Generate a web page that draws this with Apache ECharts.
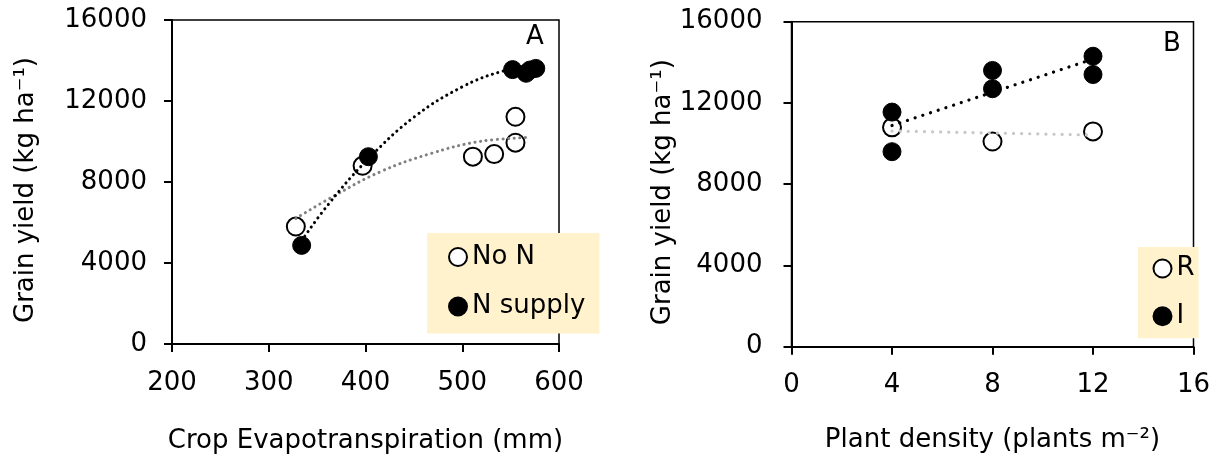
<!DOCTYPE html>
<html>
<head>
<meta charset="utf-8">
<script src="https://cdn.jsdelivr.net/npm/echarts@6/dist/echarts.min.js"></script>
<style>
  html, body { margin: 0; padding: 0; background: #fff; }
  #chart { width: 1225px; height: 471px; }
</style>
</head>
<body>
<div id="chart"></div>
<script>
// panel A: grain yield vs crop evapotranspiration (mm, kg/ha)
const ET_NO_N = [[328, 5800], [397, 8800], [511, 9250], [533, 9380], [555, 9940], [555, 11220]];
const ET_N_SUPPLY = [[334, 4870], [403, 9250], [552, 13550], [566, 13370], [570, 13530], [576, 13610]];
// trend curves
const ET_NO_N_TREND = [[328, 6200], [367, 7300], [415, 8500], [467, 9400], [518, 10000], [570, 10200]];
const ET_N_SUPPLY_TREND = [[334, 5100], [360, 6800], [400, 9000], [450, 11200], [500, 12700], [540, 13450], [576, 13750]];

// panel B: grain yield vs plant density (plants m-2, kg/ha)
const DENSITY_R = [[4, 10800], [8, 10100], [12, 10600]];
const DENSITY_I = [[4, 11550], [4, 9600], [8, 13600], [8, 12700], [12, 14300], [12, 13400]];
const DENSITY_R_TREND = [[4, 10620], [12, 10420]];
const DENSITY_I_TREND = [[4, 10890], [12, 14160]];

const FONT = "DejaVu Sans";
const FS = 26;

const chart = echarts.init(document.getElementById("chart"));

function xAxis(gridIndex, min, max, interval, name, nameGap) {
  return {
    gridIndex, type: "value", min, max, interval,
    name, nameLocation: "middle", nameGap,
    nameTextStyle: { fontFamily: FONT, fontSize: FS, color: "#000" },
    axisLine: { lineStyle: { color: "#000", width: 2 } },
    axisTick: { length: 8, lineStyle: { color: "#000", width: 2 } },
    axisLabel: { margin: 26, fontFamily: FONT, fontSize: FS, color: "#000", formatter: (v) => String(v) },
    splitLine: { show: false },
  };
}

function yAxis(gridIndex, name, nameGap, labelMargin) {
  return {
    gridIndex, type: "value", min: 0, max: 16000, interval: 4000,
    name, nameLocation: "middle", nameGap,
    nameTextStyle: { fontFamily: FONT, fontSize: FS, color: "#000", padding: [0, 16, 0, 0] },
    axisLine: { lineStyle: { color: "#000", width: 2 } },
    axisTick: { length: 8, lineStyle: { color: "#000", width: 2 } },
    axisLabel: { margin: labelMargin, fontFamily: FONT, fontSize: FS, color: "#000", formatter: (v) => String(v) },
    splitLine: { show: false },
  };
}

const openDot = { color: "#fff", borderColor: "#000", borderWidth: 2, opacity: 1 };
const fullDot = { color: "#000", borderColor: "#000", borderWidth: 1, opacity: 1 };

function dots(name, idx, data, style) {
  return {
    name, type: "scatter", xAxisIndex: idx, yAxisIndex: idx,
    data, symbol: "circle", symbolSize: 18, itemStyle: style, z: 2,
  };
}

function trend(idx, data, color, width, gap, smooth) {
  return {
    type: "line", xAxisIndex: idx, yAxisIndex: idx, data, smooth,
    showSymbol: false, silent: true, z: 3,
    lineStyle: { color, width, type: [0.1, gap], cap: "round" },
  };
}

function legend(names, left, top, padding, itemGap) {
  return {
    data: names, orient: "vertical", left, top, padding, itemGap,
    backgroundColor: "#fff2cc", icon: "circle", itemWidth: 18, itemHeight: 18,
    selectedMode: false,
    textStyle: { fontFamily: FONT, fontSize: FS, color: "#000" },
  };
}

chart.setOption({
  animation: false,
  backgroundColor: "#fff",
  grid: [
    { left: 172, top: 20, width: 387, height: 324, show: true, borderColor: "#000", borderWidth: 1.5 },
    { left: 791.5, top: 21.7, width: 402, height: 325, show: true, borderColor: "#000", borderWidth: 1.5 },
  ],
  xAxis: [
    xAxis(0, 200, 600, 100, "Crop Evapotranspiration (mm)", 84),
    xAxis(1, 0, 16, 4, "Plant density (plants m⁻²)", 81),
  ],
  yAxis: [
    yAxis(0, "Grain yield (kg ha⁻¹)", 133, 25),
    yAxis(1, "Grain yield (kg ha⁻¹)", 112, 29),
  ],
  legend: [
    legend(["No N", "N supply"], 427, 233, [11, 14, 14, 21], 23.5),
    legend(["R", "I"], 1138, 247, [8.5, 4, 9, 14.5], 21.7),
  ],
  graphic: [
    { type: "text", left: 526, top: 24, style: { text: "A", fontFamily: FONT, fontSize: FS, fill: "#000" } },
    { type: "text", left: 1163, top: 31, style: { text: "B", fontFamily: FONT, fontSize: FS, fill: "#000" } },
  ],
  series: [
    dots("No N", 0, ET_NO_N, openDot),
    dots("N supply", 0, ET_N_SUPPLY, fullDot),
    trend(0, ET_NO_N_TREND, "#7f7f7f", 3, 5.5, 0.4),
    trend(0, ET_N_SUPPLY_TREND, "#000", 3, 5.5, 0.4),
    dots("R", 1, DENSITY_R, openDot),
    dots("I", 1, DENSITY_I, fullDot),
    trend(1, DENSITY_R_TREND, "#c8c8c8", 3.2, 8, false),
    trend(1, DENSITY_I_TREND, "#000", 3.2, 8, false),
  ],
});
</script>
</body>
</html>
